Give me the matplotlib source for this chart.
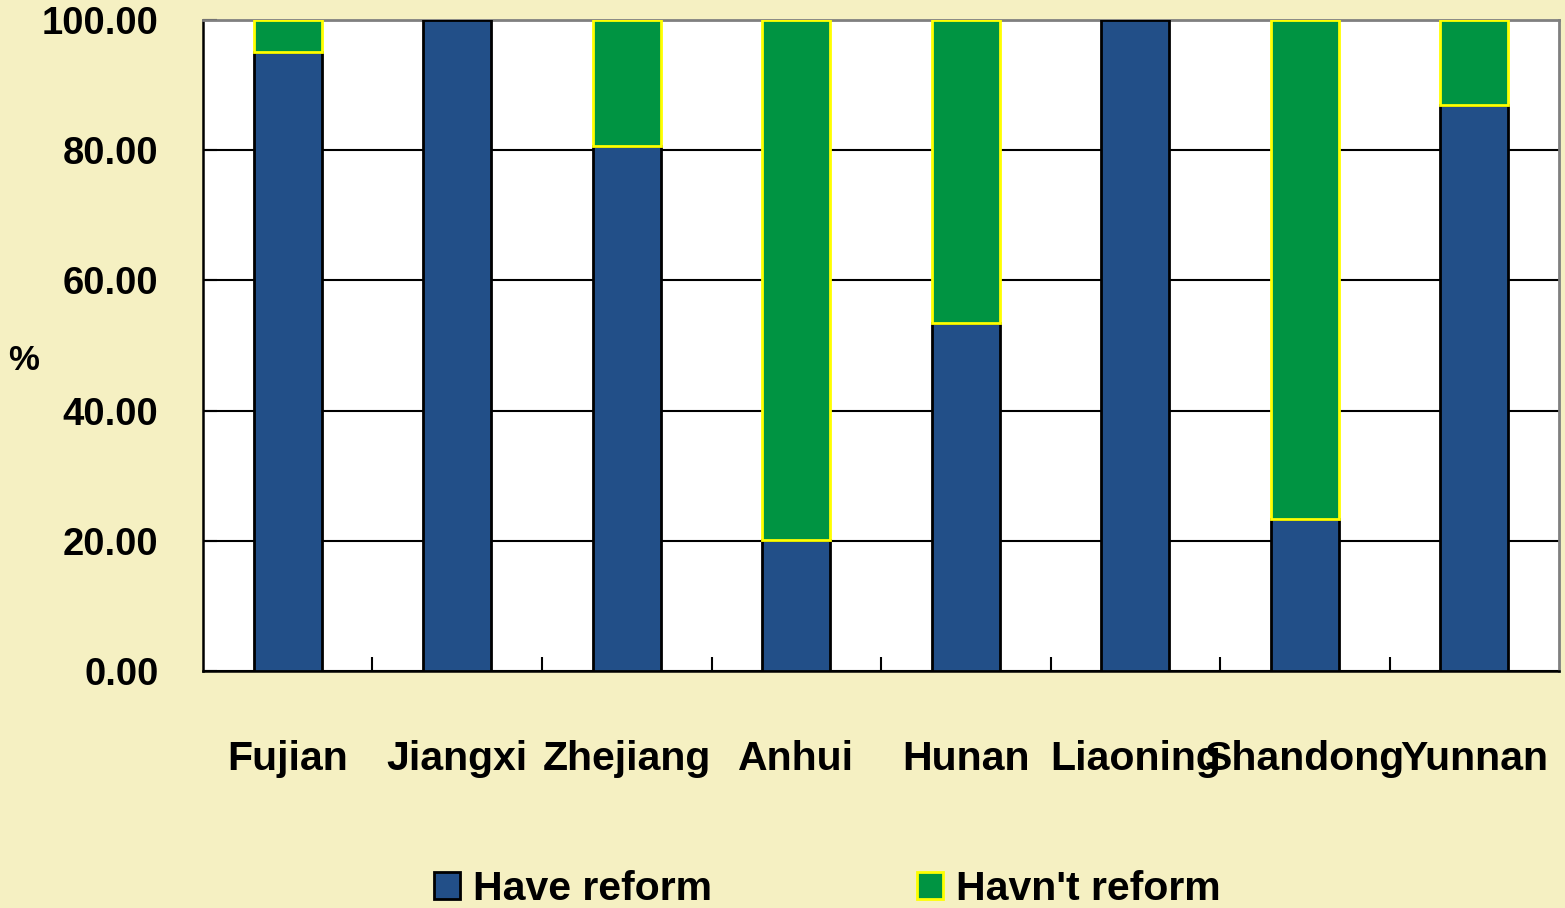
import numpy as np
import matplotlib
matplotlib.use("Agg")
import matplotlib.pyplot as plt

# Share of counties by reform status (%)
provinces = ["Fujian", "Jiangxi", "Zhejiang", "Anhui", "Hunan", "Liaoning", "Shandong", "Yunnan"]
have_reform = [95.1, 100.0, 80.7, 20.1, 53.5, 100.0, 23.3, 86.9]
havnt_reform = [4.9, 0.0, 19.3, 79.9, 46.5, 0.0, 76.7, 13.1]
y_ticks = [0, 20, 40, 60, 80, 100]

bg = "#F5F0C2"
blue = "#224F88"
green = "#009442"

plt.rcParams['font.family'] = ['Liberation Sans', 'DejaVu Sans']

fig = plt.figure(figsize=(15.65, 9.08), dpi=100, facecolor=bg)
ax = fig.add_axes([0.1297, 0.261, 0.8665, 0.717])
ax.set_facecolor("white")

x = np.arange(len(provinces))
bars1 = ax.bar(x, have_reform, width=0.4, color=blue, edgecolor="black", linewidth=2, zorder=3,
               label="Have reform")
bars2 = ax.bar(x, havnt_reform, width=0.4, bottom=have_reform, color=green, edgecolor="#FFFF00",
               linewidth=2, zorder=3, label="Havn't reform")
# hide zero-height green segments
for b, v in zip(bars2, havnt_reform):
    if v == 0:
        b.set_visible(False)

ax.set_xlim(-0.5, len(provinces) - 0.5)
ax.set_ylim(0, 100)
ax.set_yticks(y_ticks)
ax.set_yticklabels(["%.2f" % v for v in y_ticks], fontweight="bold")
ax.yaxis.grid(True, color="black", linewidth=1.5, zorder=1)

ax.set_xticks(x)
ax.set_xticklabels(provinces, fontweight="bold")
ax.set_xticks(np.arange(0.5, len(provinces) - 0.5, 1), minor=True)
ax.tick_params(axis="x", which="major", length=0, pad=50, labelsize=29.5)
ax.tick_params(axis="x", which="minor", direction="in", length=10, width=1.5, color="black")
ax.tick_params(axis="y", direction="in", length=10, width=1.5, pad=32, labelsize=27.5)

for s in ["left", "bottom"]:
    ax.spines[s].set_color("black")
    ax.spines[s].set_linewidth(1.8)
for s in ["top", "right"]:
    ax.spines[s].set_color("#808080")
    ax.spines[s].set_linewidth(2)

fig.text(24 / 1565, 1 - 360 / 908, "%", fontsize=25, fontweight="bold", ha="center", va="center")

leg = fig.legend(handles=[bars1, bars2], loc="center left", bbox_to_anchor=(434 / 1565, 0.021),
                 ncol=2, frameon=False, prop={"size": 29.5, "weight": "bold"},
                 handlelength=0.63, handleheight=0.62,
                 handletextpad=0.32, columnspacing=5.0, borderpad=0, borderaxespad=0)

fig.savefig("out.png", dpi=100, facecolor=bg)
